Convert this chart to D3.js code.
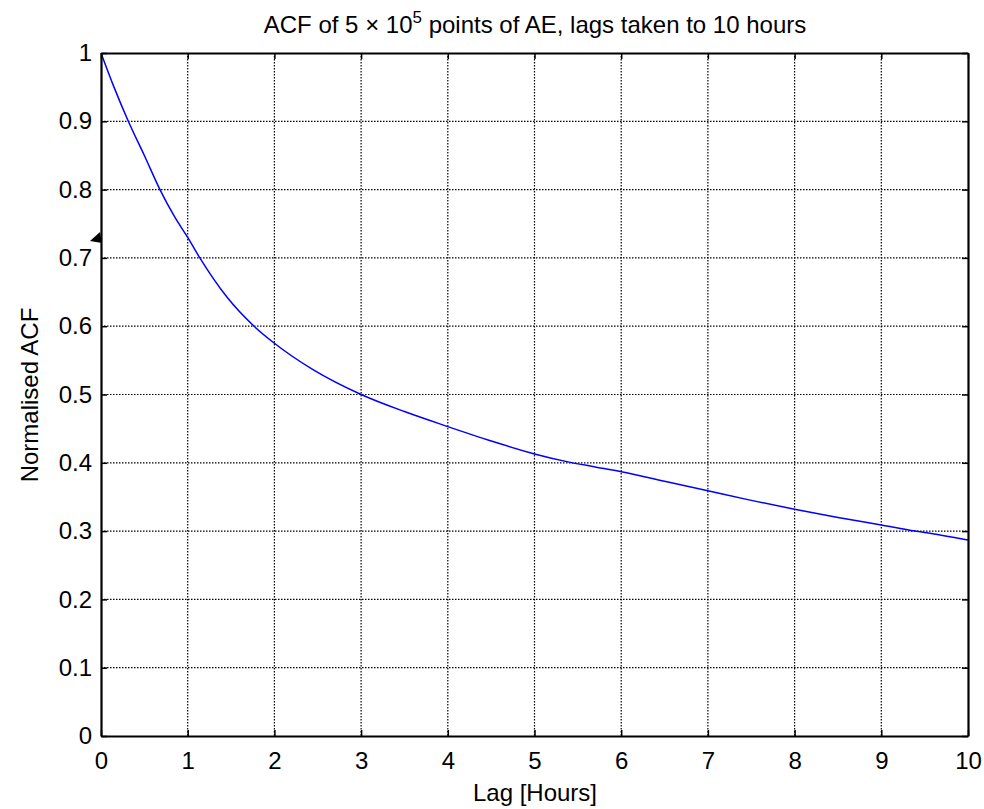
<!DOCTYPE html>
<html><head><meta charset="utf-8">
<script src="https://cdn.jsdelivr.net/npm/d3@7"></script>
<style>body{margin:0;background:#fff}svg{display:block}text{font-family:"Liberation Sans",Arial,sans-serif;fill:#000}</style>
</head><body><svg id="c" width="984" height="809"></svg>
<script>
const lagHours = [0,0.15,0.315,0.5,0.68,0.85,1.0,1.14,1.45,1.765,2.0,2.45,3.0,3.5,4.0,4.5,5.0,5.4,5.7,6.0,6.5,7.0,7.5,8.0,8.5,9.0,9.39,9.5,10];
const acfValues = [1.0,0.95,0.9,0.85,0.8,0.76,0.73,0.70,0.643,0.60,0.575,0.536,0.50,0.475,0.453,0.432,0.413,0.401,0.394,0.387,0.373,0.359,0.345,0.332,0.320,0.309,0.30,0.298,0.287];
const xTicks = [0,1,2,3,4,5,6,7,8,9,10];
const yTicks = [0,0.1,0.2,0.3,0.4,0.5,0.6,0.7,0.8,0.9,1];

const svg = d3.select("#c");
const L=101, R=968, T=53, B=736;
const x = d3.scaleLinear().domain([0,10]).range([L,R]);
const y = d3.scaleLinear().domain([0,1]).range([B,T]);

// grid
const g = svg.append("g");
g.selectAll(".vg").data(xTicks.slice(1,-1)).join("line")
 .attr("x1",d=>x(d)).attr("x2",d=>x(d)).attr("y1",T).attr("y2",B)
 .attr("stroke","#000").attr("stroke-width",1.2).attr("stroke-dasharray","1.5,1.5");
g.selectAll(".hg").data(yTicks.slice(1,-1)).join("line")
 .attr("y1",d=>y(d)).attr("y2",d=>y(d)).attr("x1",L).attr("x2",R)
 .attr("stroke","#000").attr("stroke-width",1.2).attr("stroke-dasharray","1.5,1.5");

// curve
const pts = lagHours.map((h,i)=>[h,acfValues[i]]);
svg.append("path").datum(pts)
 .attr("fill","none").attr("stroke","#0000ff").attr("stroke-width",1.5)
 .attr("d", d3.line().x(d=>x(d[0])).y(d=>y(d[1])).curve(d3.curveMonotoneX));

// axes (ticks inside)
const fmt = d=>String(+d.toFixed(1));
const xb = svg.append("g").attr("transform",`translate(0,${B})`)
 .call(d3.axisBottom(x).tickValues(xTicks).tickFormat(fmt).tickSizeInner(-6).tickSizeOuter(0).tickPadding(33));
const xt = svg.append("g").attr("transform",`translate(0,${T})`)
 .call(d3.axisTop(x).tickValues(xTicks).tickFormat("").tickSizeInner(-6).tickSizeOuter(0));
const yl = svg.append("g").attr("transform",`translate(${L},0)`)
 .call(d3.axisLeft(y).tickValues(yTicks).tickFormat(fmt).tickSizeInner(-6).tickSizeOuter(0).tickPadding(9));
const yr = svg.append("g").attr("transform",`translate(${R},0)`)
 .call(d3.axisRight(y).tickValues(yTicks).tickFormat("").tickSizeInner(-6).tickSizeOuter(0));
[xb,xt,yl,yr].forEach(a=>{
  a.attr("font-size",24).attr("font-family","Liberation Sans, Arial, sans-serif");
  a.selectAll("path").attr("stroke","#000").attr("stroke-width",2.2);
  a.selectAll("line").attr("stroke","#000").attr("stroke-width",1.5);
});
xb.selectAll("text").attr("dy","0");

// small marker triangle on left axis
svg.append("path").attr("d","M90,241 L100,232 L102,243 Z").attr("fill","#000");

// title
const t = svg.append("text").attr("x",535).attr("y",33).attr("text-anchor","middle").attr("font-size",24);
t.append("tspan").text("ACF of 5 \u00d7 10");
t.append("tspan").attr("dy",-10).attr("font-size",17).text("5");
t.append("tspan").attr("dy",10).text(" points of AE, lags taken to 10 hours");

// axis labels
svg.append("text").attr("x",535).attr("y",801).attr("text-anchor","middle").attr("font-size",24).text("Lag [Hours]");
svg.append("text").attr("transform","translate(38,395) rotate(-90)").attr("text-anchor","middle").attr("font-size",24).text("Normalised ACF");
</script></body></html>
